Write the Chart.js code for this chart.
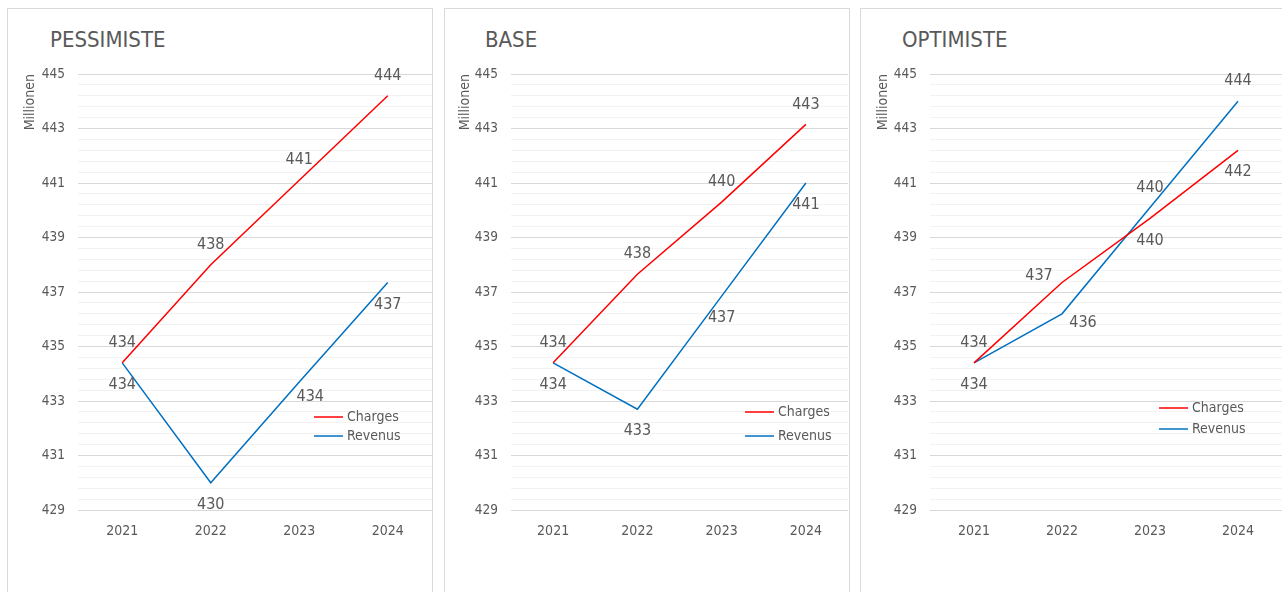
<!DOCTYPE html>
<html>
<head>
<meta charset="utf-8">
<script src="https://cdn.jsdelivr.net/npm/chart.js@4"></script>
<style>
  body { margin: 0; background: #fff; width: 1282px; height: 592px; overflow: hidden; position: relative; font-family: "DejaVu Sans Condensed", "DejaVu Sans", sans-serif; }
  .panel { position: absolute; top: 8px; height: 600px; border: 1px solid #d9d9d9; box-sizing: border-box; }
  .title { position: absolute; top: 29px; font-size: 22px; line-height: 22px; color: #595959; }
  canvas { position: absolute; top: 9px; }
</style>
</head>
<body>
<div class="panel" style="left:7px; width:426px;"></div>
<div class="panel" style="left:444px; width:406px;"></div>
<div class="panel" style="left:860px; width:430px;"></div>
<div class="title" style="left:50px;">PESSIMISTE</div>
<div class="title" style="left:485px;">BASE</div>
<div class="title" style="left:902px;">OPTIMISTE</div>
<canvas id="c1" width="424" height="583" style="left:8px"></canvas>
<canvas id="c2" width="403" height="583" style="left:445px"></canvas>
<canvas id="c3" width="421" height="583" style="left:861px"></canvas>
<script>
// years on the x axis
const years = ['2021', '2022', '2023', '2024'];

// values in millions
const pessCharges = [434.4, 438.0, 441.1, 444.2];
const pessRevenus = [434.4, 430.0, 433.7, 437.35];
const baseCharges = [434.4, 437.65, 440.3, 443.15];
const baseRevenus = [434.4, 432.7, 436.85, 441.0];
const optiCharges = [434.4, 437.35, 439.7, 442.2];
const optiRevenus = [434.4, 436.2, 440.1, 444.0];

const yMin = 429, yMax = 445;

const GREY = '#595959';
const FONT = '"DejaVu Sans Condensed", "DejaVu Sans", sans-serif';
Chart.defaults.font.family = FONT;
Chart.defaults.color = GREY;

// where each value label sits relative to its point
const OFFSETS = {
    top: [0, -20],
    bottom: [0, 22],
    left: [-23, -7],
    right: [21, 9],
    bottomright: [11, 15]
};

const valueLabels = {
    id: 'valueLabels',
    afterDatasetsDraw(chart) {
        const ctx = chart.ctx;
        ctx.save();
        ctx.font = '16px ' + FONT;
        ctx.fillStyle = GREY;
        ctx.textAlign = 'center';
        ctx.textBaseline = 'middle';
        chart.data.datasets.forEach((ds, i) => {
            chart.getDatasetMeta(i).data.forEach((pt, j) => {
                const off = OFFSETS[ds.labelPos[j]];
                ctx.fillText(Math.round(ds.data[j]), pt.x + off[0], pt.y + off[1]);
            });
        });
        ctx.restore();
    }
};

// small legend drawn inside the plot
const innerLegend = {
    id: 'innerLegend',
    afterDraw(chart, args, opts) {
        const ctx = chart.ctx;
        ctx.save();
        ctx.font = '14px ' + FONT;
        ctx.textBaseline = 'middle';
        chart.data.datasets.forEach((ds, i) => {
            const y = opts.y + i * opts.gap;
            ctx.strokeStyle = ds.borderColor;
            ctx.lineWidth = 1.5;
            ctx.beginPath();
            ctx.moveTo(opts.x, y);
            ctx.lineTo(opts.x + 29, y);
            ctx.stroke();
            ctx.fillStyle = GREY;
            ctx.fillText(ds.label, opts.x + 33, y);
        });
        ctx.restore();
    }
};

function isMajor(v) {
    const k = (v - yMin) / 2;
    return Math.abs(k - Math.round(k)) < 1e-6;
}

function makeChart(id, charges, revenus, chargePos, revenuPos, yWidth, titlePad, legend) {
    const ctx = document.getElementById(id).getContext('2d');
    return new Chart(ctx, {
        type: 'line',
        data: {
            labels: years,
            datasets: [{
                label: 'Charges',
                data: charges,
                borderColor: '#ff0000',
                borderWidth: 1.5,
                pointRadius: 0,
                labelPos: chargePos
            }, {
                label: 'Revenus',
                data: revenus,
                borderColor: '#0070c0',
                borderWidth: 1.5,
                pointRadius: 0,
                labelPos: revenuPos
            }]
        },
        options: {
            responsive: false,
            animation: false,
            layout: { padding: { top: 65, left: 0, right: 0, bottom: 0 } },
            plugins: {
                legend: { display: false },
                tooltip: { enabled: false },
                innerLegend: legend
            },
            scales: {
                x: {
                    offset: true,
                    grid: { display: false, drawTicks: false },
                    border: { display: false },
                    ticks: { padding: 13, maxRotation: 0, font: { size: 14 }, color: GREY },
                    afterFit(scale) { scale.height = 82; }
                },
                y: {
                    min: yMin,
                    max: yMax,
                    grid: {
                        drawTicks: false,
                        color: (c) => isMajor(c.tick.value) ? '#d9d9d9' : '#f2f2f2',
                        lineWidth: 1
                    },
                    border: { display: false },
                    ticks: {
                        stepSize: 0.4,
                        autoSkip: false,
                        padding: 13,
                        font: { size: 13.5 },
                        color: GREY,
                        callback: (v) => isMajor(v) ? Math.round(v) : ''
                    },
                    title: {
                        display: true,
                        text: 'Millionen',
                        align: 'end',
                        font: { size: 14 },
                        color: GREY,
                        padding: { top: titlePad, bottom: 0 }
                    },
                    afterFit(scale) { scale.width = yWidth; }
                }
            }
        },
        plugins: [valueLabels, innerLegend]
    });
}

makeChart('c1', pessCharges, pessRevenus,
    ['top', 'top', 'top', 'top'],
    ['bottom', 'bottom', 'bottomright', 'bottom'],
    70, 14, { x: 306, y: 408, gap: 19 });

makeChart('c2', baseCharges, baseRevenus,
    ['top', 'top', 'top', 'top'],
    ['bottom', 'bottom', 'bottom', 'bottom'],
    66, 12, { x: 300, y: 403, gap: 24 });

makeChart('c3', optiCharges, optiRevenus,
    ['top', 'left', 'bottom', 'bottom'],
    ['bottom', 'right', 'top', 'top'],
    69, 14, { x: 298, y: 399, gap: 21 });
</script>
</body>
</html>
